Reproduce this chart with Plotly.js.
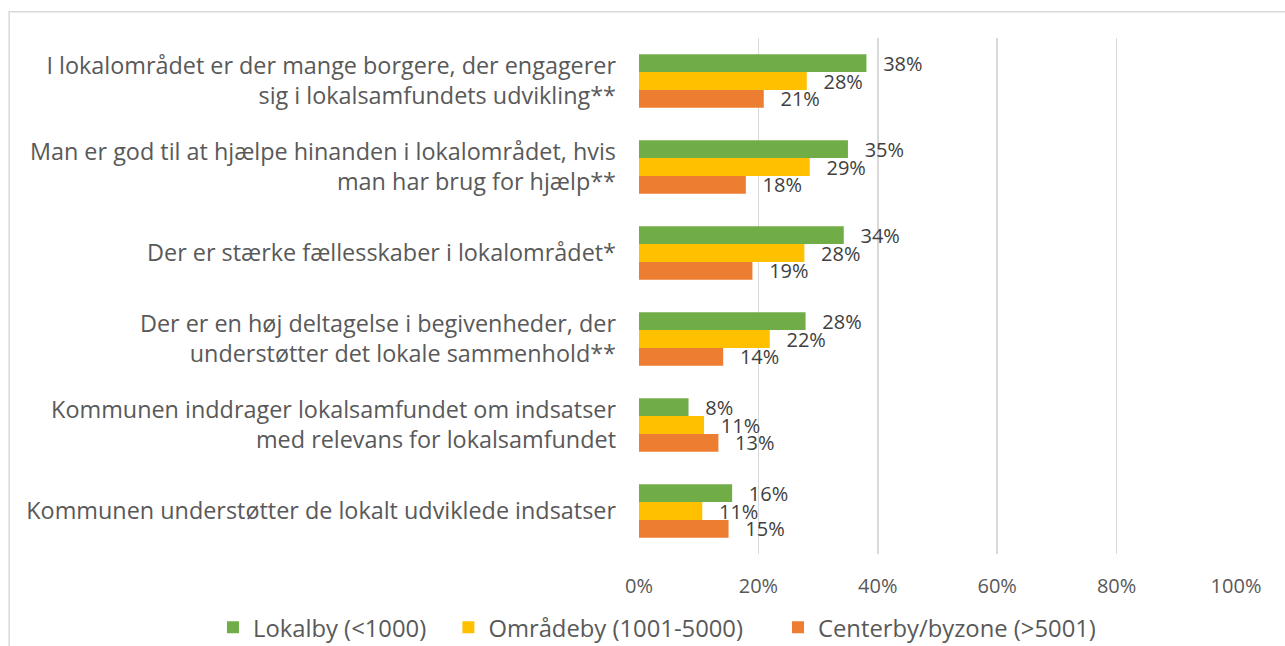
<!DOCTYPE html>
<html>
<head>
<meta charset="utf-8">
<script src="https://cdn.plot.ly/plotly-3.0.1.min.js"></script>
<style>html,body{margin:0;padding:0;background:#fff;}#chart{width:1285px;height:646px;}</style>
</head>
<body>
<div id="chart"></div>
<script>
const categories = [
  "I lokalområdet er der mange borgere, der engagerer<br>sig i lokalsamfundets udvikling**",
  "Man er god til at hjælpe hinanden i lokalområdet, hvis<br>man har brug for hjælp**",
  "Der er stærke fællesskaber i lokalområdet*",
  "Der er en høj deltagelse i begivenheder, der<br>understøtter det lokale sammenhold**",
  "Kommunen inddrager lokalsamfundet om indsatser<br>med relevans for lokalsamfundet",
  "Kommunen understøtter de lokalt udviklede indsatser"
];
const seriesNames = ["Lokalby (<1000)", "Områdeby (1001-5000)", "Centerby/byzone (>5001)"];
const lokalby = [38.1, 35.0, 34.3, 27.9, 8.3, 15.6];
const omraadeby = [28.1, 28.6, 27.7, 21.9, 10.9, 10.6];
const centerby = [20.9, 17.9, 19.0, 14.1, 13.3, 15.0];
const colors = ["#70ad47", "#ffc000", "#ed7d31"];
const tickVals = [0, 20, 40, 60, 80, 100];
const tickText = ["0%", "20%", "40%", "60%", "80%", "100%"];

const legendIds = ["legend", "legend2", "legend3"];
const legendX = [-0.7136, -0.3193, 0.2328];

const seriesValues = [lokalby, omraadeby, centerby];
const traces = seriesValues.map((vals, i) => ({
  type: "bar",
  orientation: "h",
  name: seriesNames[i],
  legend: legendIds[i],
  y: categories,
  x: vals,
  marker: {color: colors[i]},
  texttemplate: "\u00a0\u00a0\u2009%{x:.0f}%",
  textposition: "outside",
  constraintext: "none",
  cliponaxis: false,
  textfont: {family: "Open Sans", size: 20, color: "#404040"},
  hoverinfo: "skip"
}));

const layout = {
  width: 1285,
  height: 646,
  margin: {l: 639, r: 49, t: 38, b: 92, autoexpand: false},
  paper_bgcolor: "#fff",
  plot_bgcolor: "#fff",
  barmode: "group",
  bargap: 0.38,
  bargroupgap: 0,
  showlegend: true,
  xaxis: {
    range: [0, 100],
    tickmode: "array",
    tickvals: tickVals,
    ticktext: tickText,
    showgrid: true,
    gridcolor: "#d9d9d9",
    gridwidth: 1.5,
    zeroline: false,
    showline: false,
    ticks: "",
    ticklabelstandoff: 18,
    tickfont: {family: "Open Sans", size: 20, color: "#595959"},
    fixedrange: true
  },
  yaxis: {
    autorange: "reversed",
    showgrid: false,
    zeroline: false,
    showline: false,
    ticks: "",
    ticklabelstandoff: 22,
    tickfont: {family: "Open Sans", size: 23.4, color: "#595959"},
    fixedrange: true
  },
  shapes: [{
    type: "rect", xref: "paper", yref: "paper",
    x0: -1.055, x1: 2, y0: -1, y1: 1.051,
    line: {color: "#d9d9d9", width: 1.5},
    fillcolor: "rgba(0,0,0,0)"
  }]
};

legendIds.forEach((id, i) => {
  layout[id] = {
    orientation: "h",
    x: legendX[i], xanchor: "left",
    y: -0.142, yanchor: "middle",
    bgcolor: "rgba(0,0,0,0)",
    font: {family: "Open Sans", size: 23.8, color: "#595959"}
  };
});

Plotly.newPlot("chart", traces, layout, {displayModeBar: false, staticPlot: true});
</script>
</body>
</html>
